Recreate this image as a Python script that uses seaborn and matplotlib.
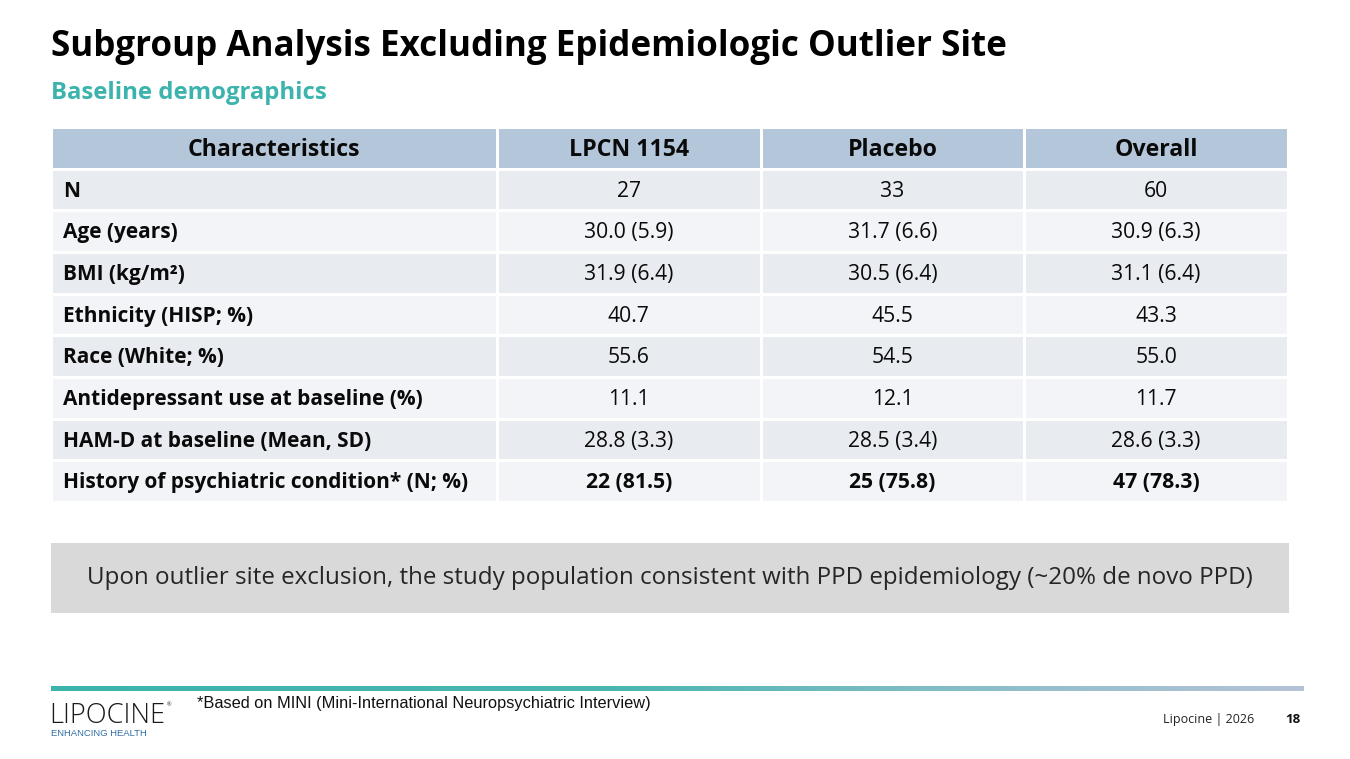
import numpy as np
import pandas as pd
import matplotlib
matplotlib.use("Agg")
import matplotlib.pyplot as plt
from matplotlib.colors import ListedColormap, LinearSegmentedColormap
import seaborn as sns

# ---------------- data ----------------
title = "Subgroup Analysis Excluding Epidemiologic Outlier Site"
subtitle = "Baseline demographics"
columns = ["Characteristics", "LPCN 1154", "Placebo", "Overall"]
characteristics = [
    "N",
    "Age (years)",
    "BMI (kg/m²)",
    "Ethnicity (HISP; %)",
    "Race (White; %)",
    "Antidepressant use at baseline (%)",
    "HAM-D at baseline (Mean, SD)",
    "History of psychiatric condition* (N; %)",
]
lpcn_1154 = ["27", "30.0 (5.9)", "31.9 (6.4)", "40.7", "55.6", "11.1", "28.8 (3.3)", "22 (81.5)"]
placebo = ["33", "31.7 (6.6)", "30.5 (6.4)", "45.5", "54.5", "12.1", "28.5 (3.4)", "25 (75.8)"]
overall = ["60", "30.9 (6.3)", "31.1 (6.4)", "43.3", "55.0", "11.7", "28.6 (3.3)", "47 (78.3)"]
callout = "Upon outlier site exclusion, the study population consistent with PPD epidemiology (~20% de novo PPD)"
footnote = "*Based on MINI (Mini-International Neuropsychiatric Interview)"
footer_left = "Lipocine | 2026"
page_number = "18"

# ---------------- style ----------------
sns.set_theme(style="white")
plt.rcParams["font.family"] = ["Open Sans", "DejaVu Sans"]

HEADER = "#b4c7da"
ROW_DARK = "#e8ebf0"
ROW_LIGHT = "#f2f4f7"
TEAL = "#3cb4ad"
TXT = "#0a0a0a"

W, H = 1350, 759
fig = plt.figure(figsize=(W / 100, H / 100), dpi=100)
fig.patch.set_facecolor("white")


def fx(px):
    return px / W


def fy(py):
    return 1 - py / H


# ---------------- table ----------------
n_rows = len(characteristics) + 1
row_codes = np.array([0] + [1 if i % 2 == 0 else 2 for i in range(len(characteristics))])
cmap = ListedColormap([HEADER, ROW_DARK, ROW_LIGHT])

left_df = pd.DataFrame({columns[0]: row_codes})
left_annot = np.array([[columns[0]]] + [[c] for c in characteristics])

value_table = pd.DataFrame({columns[1]: lpcn_1154, columns[2]: placebo, columns[3]: overall})
right_df = pd.DataFrame(np.repeat(row_codes[:, None], 3, axis=1), columns=columns[1:])
right_annot = np.vstack([np.array([columns[1:]]), value_table.values])

tbl_top, tbl_bot = 127, 502
x0, x1, x2 = 51, 497, 1288
ax_l = fig.add_axes([fx(x0), fy(tbl_bot), fx(x1 - x0), (tbl_bot - tbl_top) / H])
ax_r = fig.add_axes([fx(x1), fy(tbl_bot), fx(x2 - x1), (tbl_bot - tbl_top) / H])

common = dict(cmap=cmap, vmin=-0.5, vmax=2.5, cbar=False, linewidths=2, linecolor="white",
              xticklabels=False, yticklabels=False, fmt="")
sns.heatmap(left_df, ax=ax_l, annot=left_annot,
            annot_kws=dict(fontsize=15, color=TXT, fontweight="bold"), **common)
sns.heatmap(right_df, ax=ax_r, annot=right_annot,
            annot_kws=dict(fontsize=15.2, color=TXT), **common)

for k, t in enumerate(ax_l.texts):
    t.set_y(t.get_position()[1] + 0.04)
    if k == 0:
        t.set_fontsize(16.7)
    else:
        t.set_ha("left")
        t.set_x(12 / (x1 - x0))
for k, t in enumerate(ax_r.texts):
    t.set_y(t.get_position()[1] + 0.04)
    r = k // 3
    if r == 0:
        t.set_fontsize(16.7)
        t.set_fontweight("bold")
    elif r == n_rows - 1:
        t.set_fontweight("bold")

for a in (ax_l, ax_r):
    a.set_xlabel("")
    a.set_ylabel("")
    for s in a.spines.values():
        s.set_visible(False)

# ---------------- titles ----------------
fig.text(fx(51), fy(56), title, fontsize=25.2, fontweight="bold", color="#000000", va="baseline")
fig.text(fx(51), fy(99), subtitle, fontsize=17.2, fontweight="bold", color=TEAL, va="baseline")

# ---------------- callout box ----------------
ax_box = fig.add_axes([fx(51), fy(613), fx(1289 - 51), 70 / H])
ax_box.set_facecolor("#d9d9d9")
ax_box.set_xticks([])
ax_box.set_yticks([])
for s in ax_box.spines.values():
    s.set_visible(False)
ax_box.text(0.5, 0.5, callout, transform=ax_box.transAxes, ha="center", va="center",
            fontsize=17.4, color="#262626")

# ---------------- footer ----------------
ax_line = fig.add_axes([fx(51), fy(691), fx(1304 - 51), 5 / H])
grad_cmap = LinearSegmentedColormap.from_list(
    "bar", [(0, "#3bb4ac"), (0.45, "#4ab6b0"), (0.8, "#96bfcd"), (1, "#b5c3d8")])
ax_line.imshow(np.linspace(0, 1, 512)[None, :], aspect="auto", cmap=grad_cmap)
ax_line.axis("off")

fig.text(fx(49), fy(723), "LIPOCINE", fontsize=19.5, color="#1a1a1a", va="baseline",
         fontweight=300)
fig.text(fx(167), fy(706), "®", fontsize=4, color="#1a1a1a", va="baseline")
fig.text(fx(51), fy(736), "ENHANCING HEALTH", fontsize=6.8, color="#2f6ea3", va="baseline",
         family=["Liberation Sans", "DejaVu Sans"])

fig.text(fx(197), fy(708), footnote, fontsize=11.8, color="#111111", va="baseline",
         family=["Liberation Sans", "DejaVu Sans"])
fig.text(fx(1254), fy(723), footer_left, fontsize=9, color="#222222", va="baseline", ha="right")
fig.text(fx(1300), fy(723), page_number, fontsize=9.5, fontweight="bold", color="#111111",
         va="baseline", ha="right")

fig.savefig("out.png", dpi=100, facecolor="white")
